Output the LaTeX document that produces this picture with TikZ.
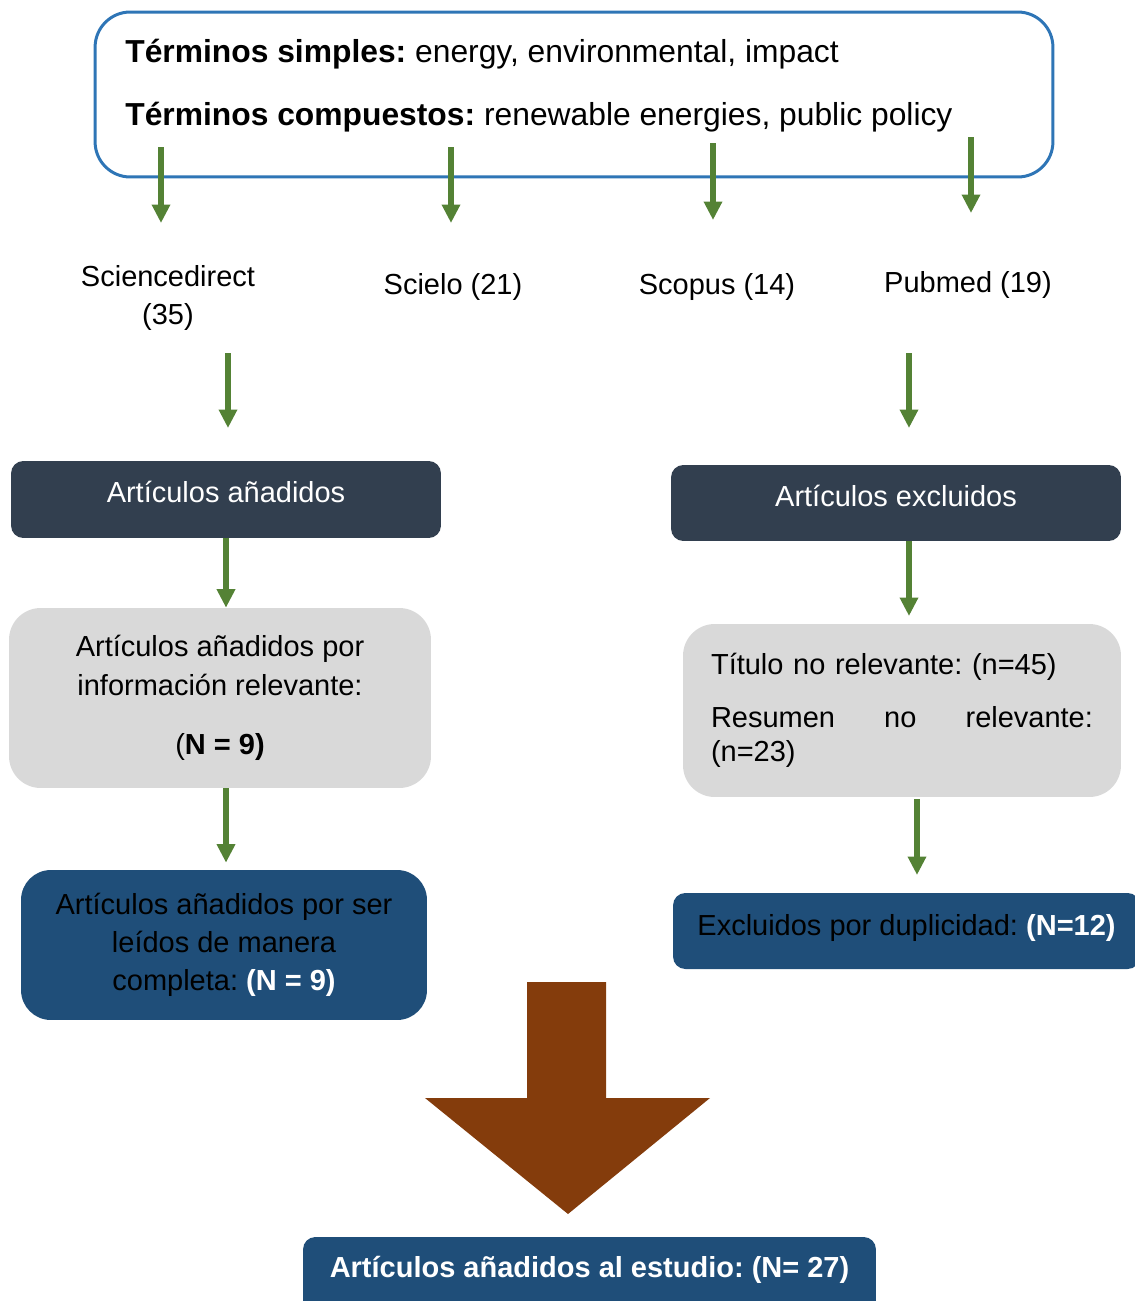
\documentclass[tikz,border=0pt]{standalone}
\usepackage{fontspec}
\setmainfont{Liberation Sans}
\usetikzlibrary{arrows.meta}
\frenchspacing

\definecolor{bordeazul}{HTML}{2E75B6}
\definecolor{verdeflecha}{HTML}{548235}
\definecolor{grisoscuro}{HTML}{323F4F}
\definecolor{grisclaro}{HTML}{D9D9D9}
\definecolor{azulcaja}{HTML}{1F4E79}
\definecolor{marron}{HTML}{843C0C}

\tikzset{
  flecha/.style={draw=verdeflecha, line width=3pt, -{Triangle[width=10pt,length=10.5pt]}},
  texto/.style={font=\fontsize{16.5}{21.8}\selectfont, inner sep=0pt},
  cajaoscura/.style={texto, rectangle, rounded corners=7pt, fill=grisoscuro, text=white, text height=12pt, text depth=8.5pt},
  cajagris/.style={texto, rectangle, rounded corners=18pt, fill=grisclaro},
  cajaazul/.style={texto, rectangle, rounded corners=7pt, fill=azulcaja},
}

\begin{document}
\begin{tikzpicture}[x=0.02cm, y=-0.02cm]
    \useasboundingbox (0,0) rectangle (1135,1301);
    \clip (0,0) rectangle (1135,1301);

    % terminos de busqueda
    \node[draw=bordeazul, line width=1.7pt, rounded corners=20pt, minimum width=19.16cm, minimum height=3.3cm] (terminos) at (574,94.5) {};
    \node[texto, font=\fontsize{18.1}{22}\selectfont, anchor=base west] (simples) at (125,63) {\textbf{Términos simples:} energy, environmental, impact};
    \node[texto, font=\fontsize{18.1}{22}\selectfont, anchor=base west] (compuestos) at (125,126) {\textbf{Términos compuestos:} renewable energies, public policy};

    % bases de datos
    \node[texto, align=center] (sciencedirect) at (168,298) {Sciencedirect\\(35)};
    \node[texto] (scielo) at (453,287) {Scielo (21)};
    \node[texto] (scopus) at (717,287) {Scopus (14)};
    \node[texto] (pubmed) at (968,285) {Pubmed (19)};

    % columna izquierda
    \node[cajaoscura, minimum width=8.6cm, minimum height=1.54cm] (anadidos) at (226,499.5) {Artículos añadidos};
    \node[cajagris, minimum width=8.44cm, minimum height=3.6cm, align=center] (relevante) at (220,698) {Artículos añadidos por\\información relevante:\\[12pt](\textbf{N = 9)}};
    \node[cajaazul, rounded corners=17pt, minimum width=8.12cm, minimum height=3cm, align=center] (completa) at (224,945) {Artículos añadidos por ser\\leídos de manera\\completa: \textcolor{white}{\textbf{(N = 9)}}};

    % columna derecha
    \node[cajaoscura, minimum width=9cm, minimum height=1.52cm] (excluidos) at (896,503) {Artículos excluidos};
    \node[cajagris, font=\fontsize{16.5}{19.3}\selectfont, minimum width=8.76cm, minimum height=3.46cm, text width=7.64cm, align=left] (titulo) at (902,710.5) {Título no relevante: (n=45)\\[11pt]Resumen\hfill no\hfill relevante:\\(n=23)};
    \node[cajaazul, minimum width=9.34cm, minimum height=1.52cm, text height=12pt, text depth=7pt] (duplicidad) at (906.5,931) {Excluidos por duplicidad: \textcolor{white}{\textbf{(N=12)}}};

    % resultado
    \fill[marron] (527,982) -- (606,982) -- (606,1098) -- (710,1098) -- (568,1214) -- (425,1098) -- (527,1098) -- cycle;
    \node[cajaazul, text=white, minimum width=11.46cm, minimum height=1.72cm, text height=12pt, text depth=15pt] (estudio) at (589.5,1280) {\textbf{Artículos añadidos al estudio: (N= 27)}};

    % flechas
    \foreach \nombre/\x/\ya/\yb in {fa/161/147/223, fb/451/147/223, fc/713/143/220, fd/971/137/213,
                                   fe/228/353/428, ff/909/353/428, fg/909/541/616, fh/917/799/875} {
        \coordinate (\nombre1) at (\x,\ya);
        \coordinate (\nombre2) at (\x,\yb);
        \draw[flecha] (\nombre1) -- (\nombre2);
    }
    \draw[flecha] (anadidos.south) -- (anadidos.south |- relevante.north);
    \draw[flecha, shorten >=4pt] (relevante.south -| anadidos.south) -- (anadidos.south |- completa.north);
\end{tikzpicture}
\end{document}
